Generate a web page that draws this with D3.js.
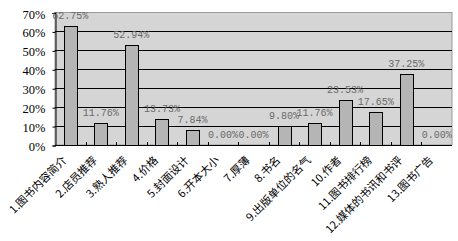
<!DOCTYPE html>
<html>
<head>
<meta charset="utf-8">
<script src="https://cdn.jsdelivr.net/npm/d3@7"></script>
<style>
    body { margin: 0; background: #fff; }
    svg { display: block; }
</style>
</head>
<body>
<div id="chart"></div>
<script>
    // categories and percentages
    var categories = ["1.图书内容简介", "2.店员推荐", "3.熟人推荐", "4.价格", "5.封面设计", "6.开本大小",
        "7.厚薄", "8.书名", "9.出版单位的名气", "10.作者", "11.图书排行榜", "12.媒体的书讯和书评", "13.图书广告"];
    var values = [62.75, 11.76, 52.94, 13.73, 7.84, 0.00, 0.00, 9.80, 11.76, 23.53, 17.65, 37.25, 0.00];
    var yTicks = [0, 10, 20, 30, 40, 50, 60, 70];

    var o = {
        w: 458, h: 241,
        left: 55, right: 452, top: 12.5, bottom: 145
    };

    var svg = d3.select("#chart").append("svg")
        .attr("width", o.w)
        .attr("height", o.h);

    var x = d3.scaleBand()
            .domain(categories)
            .range([o.left, o.right])
            .paddingInner(0.58)
            .paddingOuter(0.29),
        y = d3.scaleLinear()
            .domain([0, 70])
            .range([o.bottom, o.top]);

    // plot area
    svg.append("rect")
        .attr("x", o.left)
        .attr("y", o.top)
        .attr("width", o.right - o.left)
        .attr("height", o.bottom - o.top)
        .style("fill", "#d5d5d5")
        .style("stroke", "#9a9a9a");

    // gridlines
    svg.append("g")
        .selectAll("line")
        .data(yTicks.filter(function (d) { return d > 0 && d < 70; }))
        .enter()
        .append("line")
        .attr("x1", o.left)
        .attr("x2", o.right)
        .attr("y1", function (d) { return Math.round(y(d)) + 0.5; })
        .attr("y2", function (d) { return Math.round(y(d)) + 0.5; })
        .style("stroke", "#000")
        .style("stroke-width", 1);

    // bars
    svg.append("g")
        .selectAll("rect")
        .data(values)
        .enter()
        .append("rect")
        .attr("x", function (d, i) { return Math.round(x(categories[i])) + 0.5; })
        .attr("y", function (d) { return Math.round(y(d)) + 0.5; })
        .attr("width", Math.round(x.bandwidth()))
        .attr("height", function (d) { return Math.round(o.bottom) - Math.round(y(d)); })
        .style("fill", "#b5b5b5")
        .style("stroke", "#000")
        .style("stroke-width", 1);

    // y axis
    var yAxis = d3.axisLeft(y)
        .tickValues(yTicks)
        .tickSize(3)
        .tickFormat(function (d) { return d + "%"; });

    var gy = svg.append("g")
        .attr("transform", "translate(" + (o.left + 0.5) + ",0.5)")
        .call(yAxis);
    gy.select(".domain").style("stroke", "#000");
    gy.selectAll("text")
        .attr("x", -10)
        .attr("dy", "0.4em")
        .style("font-family", "'Liberation Serif', serif")
        .style("font-size", "12.5px")
        .style("fill", "#000");

    // x axis: small inward ticks at category boundaries
    svg.append("line")
        .attr("x1", o.left)
        .attr("x2", o.right)
        .attr("y1", o.bottom + 0.5)
        .attr("y2", o.bottom + 0.5)
        .style("stroke", "#000");

    svg.append("g")
        .selectAll("line")
        .data(categories.slice(1))
        .enter()
        .append("line")
        .attr("x1", function (d) { return Math.round(x(d) - x.step() * x.paddingInner() / 2) + 0.5; })
        .attr("x2", function (d) { return Math.round(x(d) - x.step() * x.paddingInner() / 2) + 0.5; })
        .attr("y1", o.bottom)
        .attr("y2", o.bottom - 3)
        .style("stroke", "#000");

    // category labels
    svg.append("g")
        .selectAll("text")
        .data(categories)
        .enter()
        .append("text")
        .attr("transform", function (d) {
            return "translate(" + (x(d) + x.bandwidth() / 2 - 3) + "," + (o.bottom + 16) + ") rotate(-45)";
        })
        .attr("text-anchor", "end")
        .style("font-family", "'Noto Sans CJK SC', sans-serif")
        .style("font-size", "11px")
        .style("fill", "#000")
        .text(function (d) { return d; });

    // value labels
    svg.append("g")
        .selectAll("text")
        .data(values)
        .enter()
        .append("text")
        .attr("x", function (d, i) { return x(categories[i]) + x.bandwidth() / 2; })
        .attr("y", function (d) { return y(d) - 7; })
        .attr("text-anchor", "middle")
        .style("font-family", "'Liberation Mono', monospace")
        .style("font-size", "10px")
        .style("fill", "#6a6a6a")
        .text(function (d) { return d.toFixed(2) + "%"; });
</script>
</body>
</html>
